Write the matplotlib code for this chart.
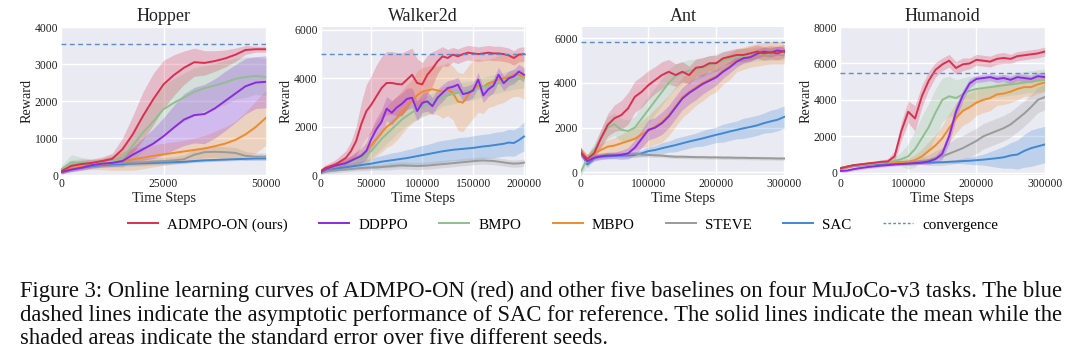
import numpy as np
import matplotlib
matplotlib.use("Agg")
import matplotlib.pyplot as plt
from matplotlib.lines import Line2D

plt.rcParams['font.family'] = ['Liberation Serif', 'DejaVu Serif']

# ---------------- data ----------------
methods = ["ADMPO-ON (ours)", "DDPPO", "BMPO", "MBPO", "STEVE", "SAC"]
colors = ["#d9304f", "#8a2be2", "#8fbf8f", "#f08a2a", "#9a9a9a", "#3f88d6"]
conv_color = "#5b8ccf"
tasks = ["Hopper", "Walker2d", "Ant", "Humanoid"]

hopper_steps = [0, 2500, 5000, 7500, 10000, 12500, 15000, 17500, 20000, 22500, 25000,
                27500, 30000, 32500, 35000, 37500, 40000, 42500, 45000, 47500, 50000]
hopper_mean = {
    "ADMPO-ON (ours)": [100, 250, 300, 330, 380, 440, 700, 1100, 1600, 2050, 2450, 2700, 2900, 3050, 3030, 3080, 3150, 3250, 3380, 3400, 3400],
    "DDPPO": [80, 150, 200, 270, 310, 330, 380, 550, 700, 850, 1050, 1280, 1500, 1620, 1650, 1800, 2000, 2200, 2400, 2500, 2520],
    "BMPO": [150, 350, 330, 320, 330, 380, 450, 800, 1150, 1450, 1780, 1950, 2100, 2250, 2350, 2420, 2500, 2600, 2650, 2680, 2650],
    "MBPO": [100, 180, 230, 270, 300, 330, 380, 430, 470, 520, 560, 600, 640, 680, 720, 780, 850, 950, 1100, 1300, 1550],
    "STEVE": [100, 250, 300, 300, 310, 320, 330, 340, 350, 370, 380, 400, 430, 550, 620, 630, 620, 600, 520, 500, 500],
    "SAC": [80, 150, 200, 240, 270, 290, 300, 310, 320, 330, 340, 350, 360, 380, 400, 410, 420, 430, 440, 450, 450],
}
hopper_err = {
    "ADMPO-ON (ours)": [60, 80, 100, 100, 110, 150, 300, 500, 650, 700, 650, 550, 450, 380, 330, 280, 230, 180, 120, 80, 80],
    "DDPPO": [50, 60, 70, 80, 90, 100, 130, 200, 300, 400, 500, 600, 700, 750, 800, 800, 800, 780, 750, 700, 700],
    "BMPO": [100, 200, 150, 120, 120, 150, 250, 400, 500, 600, 650, 650, 650, 650, 600, 600, 600, 550, 550, 500, 500],
    "MBPO": [60, 80, 100, 120, 150, 200, 250, 300, 300, 300, 300, 300, 300, 320, 350, 400, 450, 500, 600, 700, 750],
    "STEVE": [80, 150, 150, 120, 100, 100, 100, 100, 100, 100, 100, 100, 120, 150, 150, 150, 150, 150, 120, 100, 100],
    "SAC": [30, 40, 40, 40, 40, 40, 40, 40, 40, 40, 40, 40, 40, 40, 40, 40, 40, 40, 40, 40, 40],
}
hopper_conv = 3550

walker_steps = [0, 5000, 10000, 15000, 20000, 25000, 30000, 35000, 40000, 45000, 50000,
                55000, 60000, 65000, 70000, 75000, 80000, 85000, 90000, 95000, 100000,
                105000, 110000, 115000, 120000, 125000, 130000, 135000, 140000, 145000, 150000,
                155000, 160000, 165000, 170000, 175000, 180000, 185000, 190000, 195000, 200000]
walker_mean = {
    "ADMPO-ON (ours)": [170, 310, 380, 450, 585, 720, 1000, 1410, 2100, 2640, 2920, 3260, 3600, 3810, 3810, 3770, 3750, 3950, 4150, 3810, 3750, 4150, 4400, 4700, 4910, 4840, 4980, 4910, 5000, 5060, 5030, 5000, 5030, 5060, 5030, 5030, 5000, 4950, 4840, 4980, 5000],
    "DDPPO": [120, 250, 330, 400, 450, 500, 600, 700, 800, 1000, 1500, 1900, 2200, 2750, 2580, 2800, 2950, 3150, 3200, 2650, 2990, 3050, 2850, 3200, 3400, 3600, 3650, 3740, 3350, 3400, 3500, 3950, 3300, 3550, 3700, 4150, 3800, 4000, 4080, 4280, 4150],
    "BMPO": [150, 250, 320, 380, 430, 480, 550, 620, 700, 850, 1000, 1250, 1500, 1700, 1900, 2100, 2300, 2450, 2600, 2700, 2800, 2900, 3000, 3100, 3250, 3300, 3350, 3400, 3450, 3480, 3500, 3580, 3650, 3700, 3750, 3800, 3850, 3900, 3950, 3980, 4000],
    "MBPO": [150, 250, 330, 400, 450, 500, 580, 680, 800, 1000, 1250, 1500, 1750, 2000, 2150, 2350, 2600, 2850, 3050, 3300, 3450, 3500, 3550, 3500, 3450, 3550, 3400, 3050, 3000, 3300, 3550, 3700, 3650, 3800, 3850, 3950, 4000, 4050, 4150, 4150, 4050],
    "STEVE": [100, 150, 180, 200, 220, 240, 260, 280, 300, 310, 320, 330, 340, 360, 380, 400, 410, 400, 390, 380, 390, 400, 420, 440, 460, 480, 500, 520, 540, 560, 580, 600, 610, 600, 590, 560, 530, 500, 480, 490, 520],
    "SAC": [100, 180, 230, 270, 300, 330, 360, 390, 420, 450, 480, 520, 560, 590, 620, 650, 680, 710, 750, 790, 830, 870, 910, 950, 990, 1020, 1050, 1070, 1090, 1110, 1130, 1160, 1190, 1210, 1240, 1270, 1300, 1350, 1330, 1450, 1600],
}
walker_err = {
    "ADMPO-ON (ours)": [80, 120, 150, 200, 250, 300, 400, 600, 900, 1100, 1200, 1300, 1300, 1300, 1300, 1300, 1300, 1200, 1100, 1000, 900, 800, 700, 500, 400, 350, 300, 300, 300, 300, 300, 300, 300, 300, 300, 300, 300, 300, 300, 300, 300],
    "DDPPO": [80, 100, 120, 150, 150, 200, 200, 250, 300, 350, 400, 450, 500, 500, 500, 450, 450, 450, 400, 400, 400, 400, 350, 350, 350, 300, 300, 300, 300, 300, 300, 300, 300, 300, 300, 300, 300, 300, 300, 300, 300],
    "BMPO": [80, 100, 100, 120, 150, 150, 200, 200, 250, 300, 300, 350, 400, 400, 400, 400, 400, 400, 400, 400, 400, 400, 400, 400, 400, 400, 400, 400, 400, 400, 400, 400, 400, 400, 400, 400, 400, 400, 400, 400, 400],
    "MBPO": [80, 100, 120, 150, 150, 200, 250, 300, 400, 500, 600, 700, 800, 850, 900, 900, 900, 900, 900, 1000, 1000, 1000, 1000, 1000, 1100, 1100, 1100, 1200, 1200, 1200, 1200, 1100, 1100, 1000, 1000, 1000, 1000, 900, 900, 900, 900],
    "STEVE": [50, 80, 100, 100, 100, 100, 100, 100, 120, 120, 120, 120, 120, 150, 150, 150, 150, 150, 150, 150, 150, 150, 150, 150, 150, 150, 150, 150, 150, 150, 150, 150, 150, 150, 150, 150, 150, 150, 150, 150, 150],
    "SAC": [50, 60, 80, 100, 100, 120, 150, 150, 180, 200, 200, 250, 250, 280, 300, 300, 320, 350, 350, 380, 400, 400, 420, 450, 450, 450, 450, 480, 480, 480, 500, 500, 500, 500, 520, 520, 520, 550, 550, 550, 600],
}
walker_conv = 5000

ant_steps = [0, 10000, 20000, 30000, 40000, 50000, 60000, 70000, 80000, 90000, 100000,
             110000, 120000, 130000, 140000, 150000, 160000, 170000, 180000, 190000, 200000,
             210000, 220000, 230000, 240000, 250000, 260000, 270000, 280000, 290000, 300000]
ant_mean = {
    "ADMPO-ON (ours)": [900, 600, 850, 1520, 2120, 2420, 2560, 2860, 3380, 3600, 3900, 4130, 4350, 4500, 4350, 4500, 4350, 4680, 4720, 4880, 4880, 5100, 5170, 5250, 5250, 5320, 5400, 5320, 5370, 5320, 5430],
    "DDPPO": [900, 500, 650, 720, 750, 760, 780, 850, 1100, 1500, 1900, 2000, 2200, 2500, 2900, 3300, 3550, 3750, 3950, 4100, 4250, 4500, 4700, 4950, 5100, 5150, 5300, 5400, 5350, 5450, 5400],
    "BMPO": [0, 600, 1000, 1500, 2000, 2150, 1900, 1850, 2000, 2400, 2800, 3200, 3600, 4000, 4300, 4450, 4550, 4600, 4700, 4800, 4900, 5000, 5100, 5150, 5200, 5250, 5300, 5300, 5300, 5350, 5300],
    "MBPO": [950, 600, 850, 1000, 1150, 1200, 1300, 1400, 1500, 1700, 1850, 2050, 2250, 2550, 2950, 3350, 3600, 3800, 4000, 4150, 4300, 4550, 4750, 5000, 5100, 5200, 5250, 5300, 5350, 5350, 5350],
    "STEVE": [950, 450, 700, 750, 800, 800, 820, 830, 830, 800, 780, 760, 750, 720, 700, 700, 690, 680, 680, 670, 670, 660, 660, 650, 650, 640, 640, 630, 630, 620, 620],
    "SAC": [1000, 350, 650, 700, 720, 740, 750, 760, 780, 850, 950, 1000, 1080, 1150, 1220, 1300, 1380, 1450, 1520, 1600, 1680, 1750, 1830, 1900, 1970, 2030, 2100, 2200, 2280, 2350, 2480],
}
ant_err = {
    "ADMPO-ON (ours)": [200, 200, 300, 400, 500, 600, 650, 700, 700, 700, 650, 600, 600, 550, 500, 450, 400, 400, 400, 350, 350, 300, 300, 300, 300, 300, 300, 300, 300, 300, 300],
    "DDPPO": [200, 150, 150, 150, 150, 150, 200, 250, 350, 400, 450, 450, 500, 500, 500, 500, 500, 500, 450, 400, 350, 300, 250, 250, 200, 200, 200, 200, 200, 200, 200],
    "BMPO": [200, 200, 300, 400, 500, 500, 500, 500, 500, 600, 600, 600, 600, 600, 550, 500, 500, 450, 450, 400, 400, 400, 350, 350, 350, 300, 300, 300, 300, 300, 300],
    "MBPO": [200, 200, 250, 300, 300, 350, 400, 450, 500, 600, 700, 800, 900, 900, 900, 900, 900, 800, 800, 700, 700, 600, 600, 500, 500, 500, 500, 500, 500, 500, 500],
    "STEVE": [150, 150, 100, 100, 100, 100, 100, 100, 100, 100, 100, 80, 80, 80, 80, 80, 80, 80, 80, 80, 80, 80, 80, 80, 80, 80, 80, 80, 80, 80, 80],
    "SAC": [150, 150, 100, 100, 100, 100, 100, 100, 120, 150, 200, 200, 250, 250, 300, 300, 300, 300, 350, 350, 350, 400, 400, 400, 450, 450, 450, 450, 500, 500, 500],
}
ant_conv = 5850

humanoid_steps = ant_steps
humanoid_mean = {
    "ADMPO-ON (ours)": [240, 330, 420, 460, 510, 550, 600, 620, 900, 2300, 3350, 2980, 4200, 5050, 5650, 5950, 6150, 5750, 5950, 6000, 6200, 6150, 6100, 6250, 6300, 6250, 6400, 6450, 6500, 6550, 6650],
    "DDPPO": [100, 120, 200, 260, 310, 350, 390, 420, 450, 480, 500, 530, 560, 620, 750, 1050, 2000, 3350, 4250, 4900, 5150, 5200, 5250, 5150, 5200, 5100, 5250, 5200, 5150, 5300, 5250],
    "BMPO": [250, 330, 400, 440, 480, 520, 560, 600, 650, 750, 900, 1300, 1900, 2500, 3300, 4000, 4200, 4100, 4300, 4500, 4600, 4650, 4700, 4750, 4800, 4850, 4900, 4950, 5000, 5050, 5100],
    "MBPO": [250, 330, 400, 440, 480, 520, 550, 570, 580, 590, 600, 700, 900, 1200, 1500, 1900, 2450, 3000, 3400, 3600, 3850, 4000, 4100, 4300, 4350, 4450, 4600, 4700, 4700, 4850, 4950],
    "STEVE": [250, 330, 400, 440, 480, 520, 550, 570, 580, 590, 600, 620, 650, 700, 800, 900, 1050, 1200, 1350, 1550, 1750, 2000, 2150, 2300, 2450, 2650, 2950, 3250, 3600, 4000, 4150],
    "SAC": [250, 330, 380, 420, 450, 470, 490, 500, 510, 520, 530, 540, 550, 560, 570, 580, 600, 620, 640, 660, 690, 720, 760, 800, 850, 950, 1000, 1200, 1350, 1450, 1550],
}
humanoid_err = {
    "ADMPO-ON (ours)": [80, 80, 80, 80, 80, 80, 100, 150, 300, 500, 600, 700, 600, 500, 400, 350, 350, 350, 350, 300, 300, 300, 300, 300, 300, 250, 250, 250, 250, 250, 250],
    "DDPPO": [80, 80, 80, 80, 80, 80, 80, 80, 80, 80, 80, 80, 100, 150, 200, 300, 400, 400, 300, 250, 200, 200, 200, 200, 200, 200, 200, 200, 200, 200, 200],
    "BMPO": [80, 80, 80, 80, 80, 80, 100, 150, 200, 400, 700, 1000, 1200, 1300, 1300, 1200, 1100, 1000, 900, 800, 700, 600, 600, 600, 600, 600, 600, 600, 600, 600, 600],
    "MBPO": [80, 80, 80, 80, 80, 80, 80, 80, 100, 150, 200, 300, 400, 500, 600, 700, 800, 800, 800, 800, 700, 700, 700, 600, 600, 600, 600, 500, 500, 500, 500],
    "STEVE": [80, 80, 80, 80, 80, 80, 80, 80, 100, 100, 100, 150, 200, 300, 400, 500, 600, 700, 700, 700, 700, 700, 700, 700, 700, 700, 700, 700, 700, 700, 700],
    "SAC": [60, 60, 60, 60, 60, 60, 60, 60, 60, 60, 60, 60, 60, 60, 60, 60, 80, 100, 150, 200, 250, 300, 400, 500, 600, 700, 800, 900, 1000, 1000, 1000],
}
humanoid_conv = 5480

xticks = {
    "Hopper": [0, 25000, 50000],
    "Walker2d": [0, 50000, 100000, 150000, 200000],
    "Ant": [0, 100000, 200000, 300000],
    "Humanoid": [0, 100000, 200000, 300000],
}
yticks = {
    "Hopper": [0, 1000, 2000, 3000, 4000],
    "Walker2d": [0, 2000, 4000, 6000],
    "Ant": [0, 2000, 4000, 6000],
    "Humanoid": [0, 2000, 4000, 6000, 8000],
}
ylims = {"Hopper": (-10, 4000), "Walker2d": (-10, 6120),
         "Ant": (-140, 6500), "Humanoid": (-150, 8000)}
xmax = {"Hopper": 50000, "Walker2d": 201500, "Ant": 302000, "Humanoid": 300500}

data = {
    "Hopper": (hopper_steps, hopper_mean, hopper_err, hopper_conv),
    "Walker2d": (walker_steps, walker_mean, walker_err, walker_conv),
    "Ant": (ant_steps, ant_mean, ant_err, ant_conv),
    "Humanoid": (humanoid_steps, humanoid_mean, humanoid_err, humanoid_conv),
}

caption_lines = [
    "Figure 3: Online learning curves of ADMPO-ON (red) and other five baselines on four MuJoCo-v3 tasks. The blue",
    "dashed lines indicate the asymptotic performance of SAC for reference. The solid lines indicate the mean while the",
    "shaded areas indicate the standard error over five different seeds.",
]

# ---------------- figure ----------------
W, H = 1080, 359
fig = plt.figure(figsize=(W / 100, H / 100), dpi=100)

lefts = [61, 320.5, 580.5, 840]
ax_w = 205
ax_top, ax_bot = 27, 175.5

for left, task in zip(lefts, tasks):
    ax = fig.add_axes([left / W, 1 - ax_bot / H, ax_w / W, (ax_bot - ax_top) / H])
    ax.set_facecolor("#eaeaf2")
    for s in ax.spines.values():
        s.set_visible(False)
    ax.grid(True, color="white", linewidth=1.0)
    ax.set_axisbelow(True)
    steps, means, errs, conv = data[task]
    x = np.array(steps, dtype=float)
    for m, c in reversed(list(zip(methods, colors))):
        mu = np.array(means[m], dtype=float)
        e = np.array(errs[m], dtype=float)
        ax.fill_between(x, mu - e, mu + e, color=c, alpha=0.25, linewidth=0)
    for m, c in reversed(list(zip(methods, colors))):
        mu = np.array(means[m], dtype=float)
        ax.plot(x, mu, color=c, linewidth=1.4)
    ax.axhline(conv, color=conv_color, linestyle=(0, (3.5, 2.5)), linewidth=1.0)
    ax.set_xlim(0, xmax[task])
    ax.set_ylim(*ylims[task])
    ax.set_xticks(xticks[task])
    ax.set_xticklabels([str(v) for v in xticks[task]])
    ax.set_yticks(yticks[task])
    ax.set_yticklabels([str(v) for v in yticks[task]])
    ax.tick_params(axis="both", length=0, pad=2, labelsize=8.4, colors="#222222")
    ax.set_title(task, fontsize=13, pad=4, color="#222222")
    ax.set_xlabel("Time Steps", fontsize=10.3, labelpad=1, color="#222222")
    ax.set_ylabel("Reward", fontsize=10.3, labelpad=1, color="#222222")

handles = [Line2D([0], [0], color=c, linewidth=1.4) for c in colors]
handles.append(Line2D([0], [0], color=conv_color, linewidth=1.0, linestyle=(0, (2, 1.5))))
labels = methods + ["convergence"]
fig.legend(handles, labels, loc="center", bbox_to_anchor=(563 / W, 1 - 225 / H),
           ncol=7, frameon=False, fontsize=10.8, handlelength=2.0,
           handletextpad=0.6, columnspacing=2.1)

for i, line in enumerate(caption_lines):
    fig.text(20 / W, 1 - (291 + 24 * i) / H, line, fontsize=16.3,
             ha="left", va="center", color="#111111")

fig.savefig("out.png", dpi=100, facecolor="white")
